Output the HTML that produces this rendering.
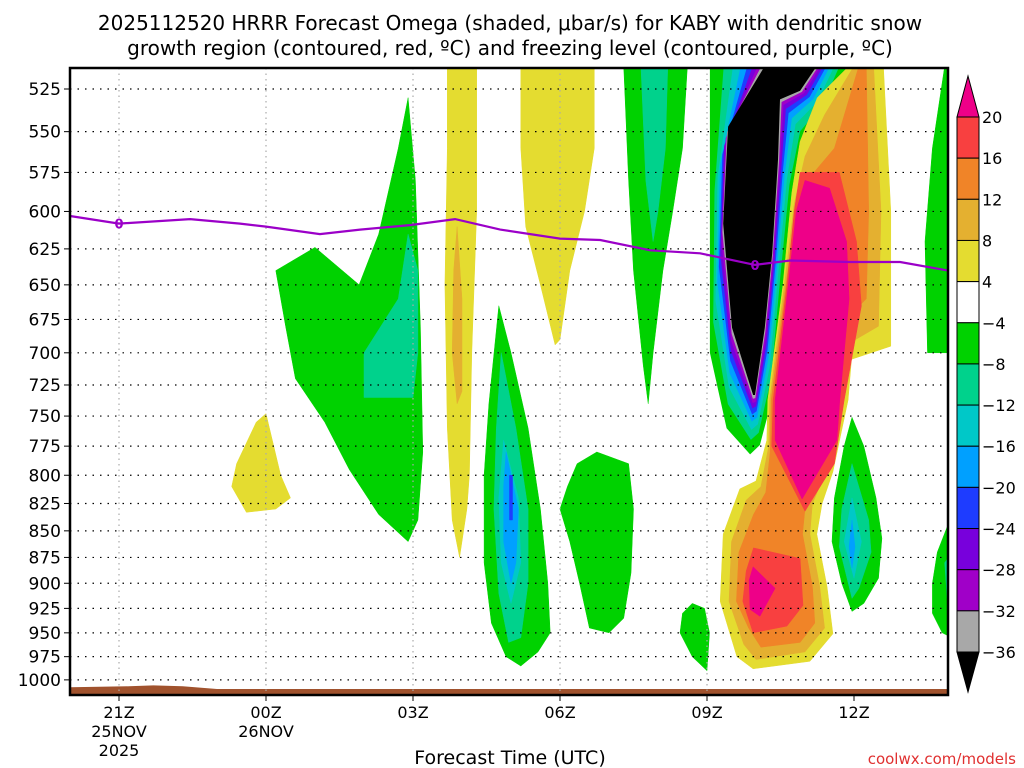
<!DOCTYPE html>
<html><head><meta charset="utf-8"><style>
html,body{margin:0;padding:0;background:#fff;width:1024px;height:768px;overflow:hidden}
svg text{font-family:"DejaVu Sans","Liberation Sans",sans-serif}
</style></head><body>
<svg id="c" width="1024" height="768" xmlns="http://www.w3.org/2000/svg">
<text x="510" y="30" text-anchor="middle" font-size="20" fill="#000">2025112520 HRRR Forecast Omega (shaded, μbar/s) for KABY with dendritic snow</text>
<text x="510" y="55" text-anchor="middle" font-size="20" fill="#000">growth region (contoured, red, ºC) and freezing level (contoured, purple, ºC)</text>
<g id="fills"></g>
<g id="grid"></g>
<g id="frz"></g>
<g id="axes"></g>
<g id="cbar"></g>
<text x="510" y="764" text-anchor="middle" font-size="19" fill="#000">Forecast Time (UTC)</text>
<text x="1016" y="764" text-anchor="end" font-size="15" fill="#e03030">coolwx.com/models</text>
</svg>
<script>
// ---- data ----
const pressureTicks=[525,550,575,600,625,650,675,700,725,750,775,800,825,850,875,900,925,950,975,1000];
const timeTickHours=[0,3,6,9,12];
const timeTickLabels=[["21Z","25NOV","2025"],["00Z","26NOV"],["03Z"],["06Z"],["09Z"],["12Z"]];
const colorLevels=["20","16","12","8","4","-4","-8","-12","-16","-20","-24","-28","-32","-36"];
const freezeHours=[-1,0,1.45,2.47,3,4.1,4.92,5.94,6.86,7.78,9,9.82,10.84,11.86,12.98,13.7,14.9,15.94,16.92];
const freezeP=[603,608,605,608,610,615,612,609,605,612,618,619,626,628,636,633,634,634,640];
const freezeLabelHours=[0,12.98];
const terrainHours=[-1,0.2,0.7,1.3,2,17];
const terrainP=[1008,1007,1006,1007,1010,1010];
// blobs: [colorIndex, [[hour,hPa],...]]
const blobs=[
[8,[[3.2,640],[4.0,624],[4.9,650],[5.3,615],[5.7,560],[5.9,530],[6.05,580],[6.15,680],[6.2,780],[6.1,840],[5.9,860],[5.3,835],[4.7,795],[4.2,755],[3.6,720],[3.4,680]]],
[9,[[5.0,700],[5.7,660],[5.9,615],[6.1,640],[6.1,700],[6.0,735],[5.0,735]]],
[3,[[2.4,790],[2.8,755],[3.0,748],[3.3,800],[3.5,820],[3.2,830],[2.6,833],[2.3,810]]],
[3,[[6.7,512],[7.3,512],[7.3,600],[7.2,700],[7.15,800],[7.1,830],[6.95,875],[6.8,840],[6.7,760],[6.65,650],[6.7,560]]],
[2,[[6.9,610],[7.0,660],[7.0,730],[6.9,740],[6.8,700],[6.83,640]]],
[3,[[8.2,512],[9.7,512],[9.7,560],[9.5,600],[9.2,640],[9.0,690],[8.9,694],[8.6,650],[8.3,610],[8.2,560]]],
[8,[[7.75,665],[8.0,700],[8.35,760],[8.6,830],[8.75,900],[8.8,950],[8.55,970],[8.2,985],[7.9,975],[7.6,940],[7.45,880],[7.45,800],[7.55,740]]],
[9,[[7.8,700],[8.1,760],[8.35,830],[8.35,900],[8.2,955],[7.95,960],[7.75,910],[7.65,830],[7.7,760]]],
[10,[[7.85,770],[8.15,820],[8.2,880],[8.0,920],[7.8,880],[7.75,820]]],
[11,[[7.9,780],[8.15,830],[8.1,880],[8.0,900],[7.85,860],[7.85,810]]],
[12,[[7.97,800],[8.03,800],[8.03,840],[7.97,840]]],
[8,[[9.35,790],[9.75,780],[10.4,790],[10.5,830],[10.45,890],[10.3,935],[10.0,950],[9.6,945],[9.4,900],[9.2,860],[9.0,830],[9.15,810]]],
[8,[[10.3,512],[11.6,512],[11.5,560],[11.3,600],[11.1,640],[10.9,700],[10.8,740],[10.7,710],[10.5,640],[10.4,580]]],
[9,[[10.65,512],[11.2,512],[11.15,560],[11.0,600],[10.9,620],[10.75,580]]],
[8,[[11.7,920],[11.95,925],[12.05,950],[12.0,990],[11.7,975],[11.45,950],[11.5,930]]],
// positive column (drawn after negative column)
[3,[[14.9,512],[15.6,512],[15.75,600],[15.75,695],[14.95,705],[14.88,737],[14.57,797],[14.35,825],[14.24,853],[14.45,903],[14.57,951],[14.1,980],[12.94,988],[12.61,975],[12.27,918],[12.33,853],[12.67,812],[13.0,805],[13.22,770],[13.24,737],[13.55,650],[13.73,588],[13.9,556],[14.25,530]]],
[2,[[15.0,512],[15.4,512],[15.55,600],[15.5,680],[14.8,695],[14.75,737],[14.45,795],[14.15,825],[14.1,853],[14.3,903],[14.4,945],[14.0,970],[13.0,978],[12.75,962],[12.45,918],[12.5,860],[12.8,822],[13.1,810],[13.26,775],[13.28,737],[13.58,650],[13.78,595],[14.0,565],[14.4,540]]],
[1,[[15.1,512],[15.25,512],[15.3,600],[15.25,660],[14.7,680],[14.65,737],[14.3,800],[14.0,830],[13.95,853],[14.15,903],[14.2,940],[13.9,960],[13.1,965],[12.85,945],[12.6,918],[12.65,870],[12.95,835],[13.2,815],[13.29,780],[13.31,737],[13.61,650],[13.85,595],[14.1,578],[14.6,560]]],
[0,[[13.9,575],[14.7,575],[15.05,620],[15.15,665],[14.8,737],[14.6,790],[14.0,832],[13.32,775],[13.35,737],[13.63,650],[13.78,600]]],
[-1,[[14.0,580],[14.5,585],[14.85,620],[14.9,660],[14.71,737],[14.65,770],[13.94,821],[13.39,770],[13.39,737],[13.66,650],[13.82,600]]],
[0,[[12.95,866],[13.9,876],[13.96,922],[13.63,943],[12.94,950],[12.73,918],[12.8,888]]],
[-1,[[12.94,884],[13.39,905],[13.08,933],[12.88,926],[12.86,897]]],
[8,[[14.96,751],[15.2,775],[15.45,820],[15.57,857],[15.5,895],[15.2,920],[14.96,928],[14.75,900],[14.55,860],[14.6,820],[14.8,775]]],
[9,[[14.96,790],[15.3,840],[15.35,870],[15.1,905],[14.96,915],[14.7,865],[14.75,830]]],
[10,[[14.96,820],[15.15,860],[15.0,895],[14.8,860]]],
[11,[[14.96,840],[15.02,865],[14.96,885],[14.9,865]]],
[8,[[16.5,700],[16.45,620],[16.6,560],[16.85,512],[17,512],[17,710],[16.9,700]]],
[8,[[16.6,900],[16.7,870],[17,835],[17,955],[16.8,950],[16.6,930]]],
[9,[[16.85,880],[17,870],[17,925],[16.9,915]]]
];
const preColumnCount=15;
// negative column outer (green, -4) and core (black, <-36) with matching vertices
const colOuter=[[12.06,512],[14.86,512],[14.51,537],[14.04,556],[13.76,588],[13.55,650],[13.35,733],[13.08,774],[12.88,782],[12.4,760],[12.06,700],[12.06,600]];
const colCore=[[13.18,512],[14.24,512],[13.9,526],[13.49,531],[13.45,567],[13.33,628],[13.18,681],[12.98,733],[12.94,733],[12.51,681],[12.33,608],[12.43,547]];
const colLayers=[8,9,10,11,12,13,14,15,16];
const colFrac=[0,0.25,0.42,0.56,0.68,0.78,0.87,0.94,1];
// ---- drawing ----
const blobColors={"-1":"#ee0088","0":"#f84040","1":"#f08428","2":"#e4b030","3":"#e4dc30","8":"#00d200","9":"#00d28c","10":"#00c8c8","11":"#00a0ff","12":"#1e3cff","13":"#7800dc","14":"#a000c8","15":"#a8a8a8","16":"#000000"};
const X0=70,X1=948,Y0=68,Y1=695;
const xs=h=>119+49*h;
const PT=525,PPX=917,YT=89;
const ys=p=>YT+PPX*Math.log(p/PT);
const NS="http://www.w3.org/2000/svg";
function mk(tag,parent,attrs){const e=document.createElementNS(NS,tag);for(const k in attrs)e.setAttribute(k,attrs[k]);parent.appendChild(e);return e;}
const svg=document.getElementById('c');
const defs=mk('defs',svg,{});
const cp=mk('clipPath',defs,{id:'plotclip'});
mk('rect',cp,{x:X0,y:Y0,width:X1-X0,height:Y1-Y0});
const fills=document.getElementById('fills');
fills.setAttribute('clip-path','url(#plotclip)');
function pts(arr){return arr.map(q=>xs(q[0]).toFixed(1)+","+ys(q[1]).toFixed(1)).join(" ");}
function drawBlob(b){
  const e=mk('polygon',fills,{points:pts(b[1]),fill:blobColors[b[0]],'stroke':blobColors[b[0]],'stroke-width':0.5,'stroke-linejoin':'round'});
  
  
}
blobs.slice(0,preColumnCount).forEach(drawBlob);
colLayers.forEach((ci,k)=>{
  const t=colFrac[k];
  const arr=colOuter.map((q,i)=>[q[0]+(colCore[i][0]-q[0])*t,q[1]+(colCore[i][1]-q[1])*t]);
  const e=mk('polygon',fills,{points:pts(arr),fill:blobColors[ci],'stroke-linejoin':'round'});
  
  
});
blobs.slice(preColumnCount).forEach(drawBlob);
// terrain
{
  let d="M"+X0+","+Y1;
  terrainHours.forEach((h,i)=>{d+=" L"+Math.max(X0,Math.min(X1,xs(h))).toFixed(1)+","+ys(terrainP[i]).toFixed(1);});
  d+=" L"+X1+","+Y1+" Z";
  const e=mk('path',fills,{d:d,fill:'#a0522d'});
  
  
}
// grid
const grid=document.getElementById('grid');
pressureTicks.forEach(p=>{
  const e=mk('line',grid,{x1:X0,x2:X1,y1:ys(p),y2:ys(p),stroke:'#000','stroke-width':1.2,'stroke-dasharray':'1.5,6'});
  
  
});
timeTickHours.forEach(h=>{
  const e=mk('line',grid,{x1:xs(h),x2:xs(h),y1:Y0,y2:Y1,stroke:'#aaa','stroke-width':1.2,'stroke-dasharray':'1.5,4'});
  
  
});
// freezing level
const frz=document.getElementById('frz');
{
  const e=mk('polyline',frz,{points:freezeHours.map((h,i)=>xs(h).toFixed(1)+","+ys(freezeP[i]).toFixed(1)).join(" "),fill:'none',stroke:'#9b00c8','stroke-width':2.2});
  
  
  freezeLabelHours.forEach(h=>{
    let i=0;while(i<freezeHours.length-2&&freezeHours[i+1]<h)i++;
    const f=(h-freezeHours[i])/(freezeHours[i+1]-freezeHours[i]);
    const p=freezeP[i]+f*(freezeP[i+1]-freezeP[i]);
    const t=mk('text',frz,{x:xs(h),y:ys(p)+5,'text-anchor':'middle','font-size':13,'font-weight':'bold',fill:'#9b00c8'});
    t.textContent='0';
    
    
  });
}
// axes
const ax=document.getElementById('axes');
{
  const e=mk('rect',ax,{x:X0,y:Y0,width:X1-X0,height:Y1-Y0,fill:'none',stroke:'#000','stroke-width':2.5});
  
  
}
pressureTicks.forEach(p=>{
  const y=ys(p);
  mk('line',ax,{x1:X0-6,x2:X0,y1:y,y2:y,stroke:'#000','stroke-width':1});
  const t=mk('text',ax,{x:X0-9,y:y+6,'text-anchor':'end','font-size':17,fill:'#000'});
  t.textContent=p;
  
  
});
timeTickLabels.forEach((lines,k)=>{
  const h=k*3;
  mk('line',ax,{x1:xs(h),x2:xs(h),y1:Y1,y2:Y1+6,stroke:'#000','stroke-width':1});
  lines.forEach((s,j)=>{
    const t=mk('text',ax,{x:xs(h),y:718+19*j,'text-anchor':'middle','font-size':16,fill:'#000'});
    t.textContent=s;
    
    
  });
});
// colorbar
const cb=document.getElementById('cbar');
const CX0=957,CX1=979,CY0=117,STEP=(652-117)/13;
mk('polygon',cb,{points:`${CX0},${CY0} ${CX1},${CY0} ${(CX0+CX1)/2},76`,fill:'#ee0088',stroke:'#000','stroke-width':1});
const swatch=["#f84040","#f08428","#e4b030","#e4dc30","#ffffff","#00d200","#00d28c","#00c8c8","#00a0ff","#1e3cff","#7800dc","#a000c8","#a8a8a8"];
for(let i=0;i<13;i++){
  const e=mk('rect',cb,{x:CX0,y:CY0+i*STEP,width:CX1-CX0,height:STEP,fill:swatch[i],stroke:'#000','stroke-width':1});
  
  
}
mk('polygon',cb,{points:`${CX0},652 ${CX1},652 ${(CX0+CX1)/2},692`,fill:'#000',stroke:'#000','stroke-width':1});
colorLevels.forEach((s,i)=>{
  const t=mk('text',cb,{x:CX1+3,y:CY0+i*STEP+6,'font-size':16,fill:'#000'});
  t.textContent=s.replace('-','−');
  
  
});
</script>
</body></html>
